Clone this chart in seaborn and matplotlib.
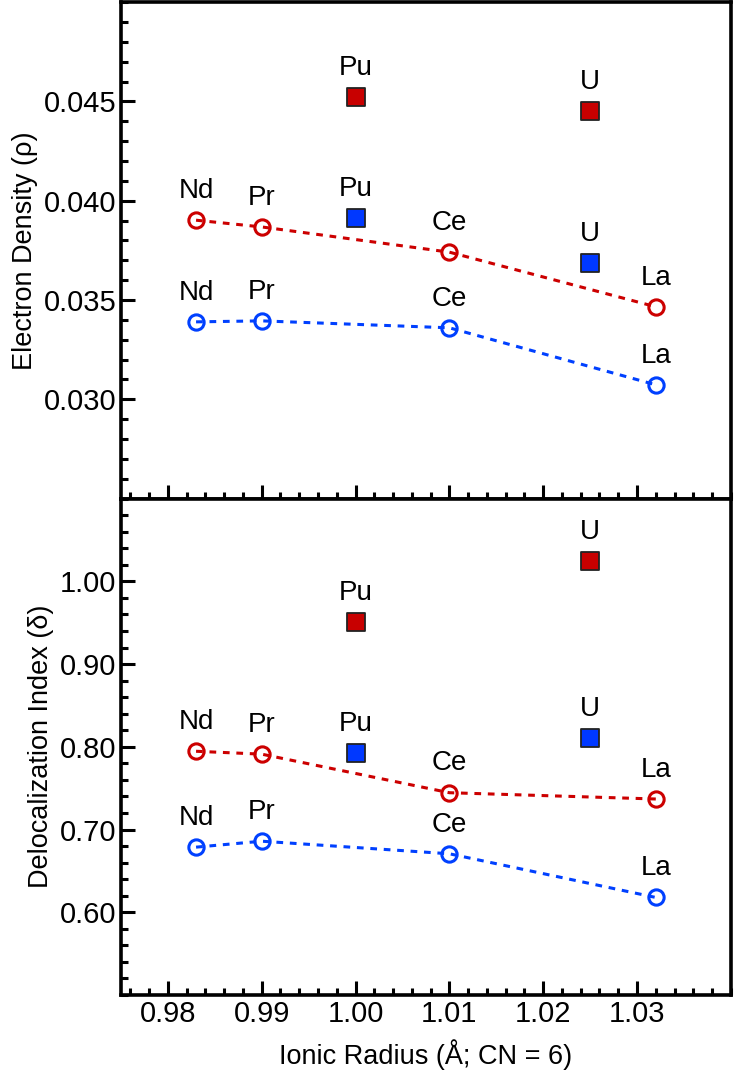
import matplotlib
matplotlib.use("Agg")
import matplotlib.pyplot as plt
import seaborn as sns
from matplotlib.ticker import MultipleLocator, FormatStrFormatter

# ionic radii (Å, CN = 6)
ln_names = ["Nd", "Pr", "Ce", "La"]
ln_radius = [0.983, 0.990, 1.010, 1.032]
an_names = ["Pu", "U"]
an_radius = [1.000, 1.025]

# electron density (rho)
rho_red_ln = [0.03902, 0.03868, 0.03741, 0.03466]
rho_blue_ln = [0.03390, 0.03395, 0.03360, 0.03073]
rho_red_an = [0.04521, 0.04453]
rho_blue_an = [0.03911, 0.03686]

# delocalization index (delta)
di_red_ln = [0.7946, 0.7911, 0.7445, 0.7369]
di_blue_ln = [0.6787, 0.6859, 0.6707, 0.6179]
di_red_an = [0.9503, 1.0242]
di_blue_an = [0.7924, 0.8107]

RED = "#CC0000"
BLUE = "#0040FF"
SQ_RED = "#C80000"
SQ_BLUE = "#0038FF"

sns.set_style("white")
plt.rcParams['font.family'] = ['Liberation Sans', 'DejaVu Sans']
plt.rcParams['text.color'] = 'black'
plt.rcParams['axes.labelcolor'] = 'black'
plt.rcParams['xtick.color'] = 'black'
plt.rcParams['ytick.color'] = 'black'

fig, (ax1, ax2) = plt.subplots(2, 1, figsize=(7.36, 10.82), dpi=100, sharex=True)
fig.subplots_adjust(left=0.1644, right=0.993, top=0.998, bottom=0.0804, hspace=0)


def draw_panel(ax, red_ln, blue_ln, red_an, blue_an):
    for vals, col in [(red_ln, RED), (blue_ln, BLUE)]:
        sns.lineplot(x=ln_radius, y=vals, ax=ax, color=col, sort=False,
                     linestyle=(0, (2.2, 2.2)), linewidth=2.2,
                     marker='o', markersize=11, markerfacecolor='none',
                     markeredgecolor=col, markeredgewidth=2.2)
        for name, x, y in zip(ln_names, ln_radius, vals):
            ax.annotate(name, (x, y), xytext=(0, 16), textcoords='offset points',
                        ha='center', va='baseline', fontsize=20)
    for vals, col in [(red_an, SQ_RED), (blue_an, SQ_BLUE)]:
        sns.scatterplot(x=an_radius, y=vals, ax=ax, marker='s', s=170,
                        color=col, edgecolor='#222222', linewidth=1.3, zorder=5)
        for name, x, y in zip(an_names, an_radius, vals):
            ax.annotate(name, (x, y), xytext=(0, 16), textcoords='offset points',
                        ha='center', va='baseline', fontsize=20)
    for sp in ax.spines.values():
        sp.set_linewidth(2.6)
        sp.set_color('black')
    ax.tick_params(which='both', direction='in', left=True, bottom=True,
                   right=False, top=False, width=2.2, labelsize=21, colors='black')
    ax.tick_params(which='major', length=10)
    ax.tick_params(which='minor', length=5)


draw_panel(ax1, rho_red_ln, rho_blue_ln, rho_red_an, rho_blue_an)
draw_panel(ax2, di_red_ln, di_blue_ln, di_red_an, di_blue_an)

ax1.set_ylim(0.025, 0.050)
ax1.yaxis.set_minor_locator(MultipleLocator(0.001))
ax1.yaxis.set_major_formatter(FormatStrFormatter('%.3f'))
ax1.set_yticks([0.030, 0.035, 0.040, 0.045])
ax1.set_ylabel("Electron Density (ρ)", fontsize=19.5, labelpad=4)
ax1.tick_params(axis='x', labelbottom=False)

ax2.set_ylim(0.50, 1.10)
ax2.set_yticks([0.60, 0.70, 0.80, 0.90, 1.00])
ax2.yaxis.set_minor_locator(MultipleLocator(0.02))
ax2.yaxis.set_major_formatter(FormatStrFormatter('%.2f'))
ax2.set_ylabel("Delocalization Index (δ)", fontsize=19.5, labelpad=4)

ax2.set_xlim(0.975, 1.040)
ax2.set_xticks([0.98, 0.99, 1.00, 1.01, 1.02, 1.03])
ax2.xaxis.set_minor_locator(MultipleLocator(0.002))
ax2.xaxis.set_major_formatter(FormatStrFormatter('%.2f'))
ax2.set_xlabel("Ionic Radius (Å; CN = 6)", fontsize=19.5, labelpad=8)

fig.savefig("out.png", dpi=100)
